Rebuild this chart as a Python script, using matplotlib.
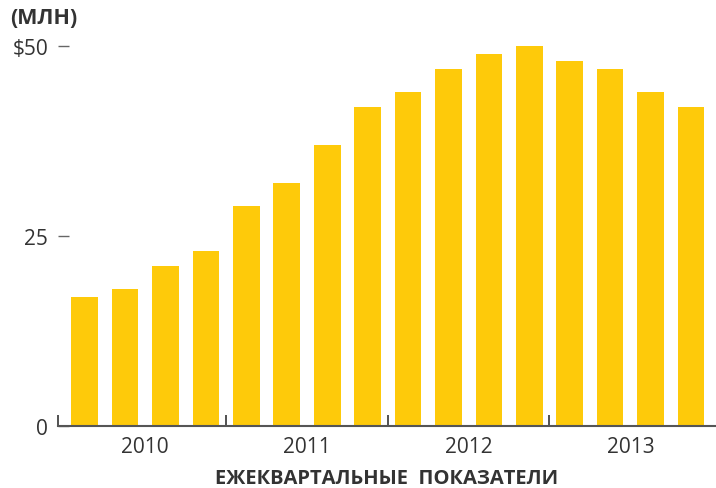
import matplotlib
matplotlib.use("Agg")
import matplotlib.pyplot as plt
import numpy as np

values = [17, 18, 21, 23, 29, 32, 37, 42, 44, 47, 49, 50, 48, 47, 44, 42]
years = ["2010", "2011", "2012", "2013"]
ytick_vals = [0, 25, 50]
ytick_labels = ["0", "25", "$50"]
title = "(МЛН)"
xlabel = "ЕЖЕКВАРТАЛЬНЫЕ  ПОКАЗАТЕЛИ"

plt.rcParams['font.family'] = ['Open Sans', 'DejaVu Sans']
text_color = "#333333"
bar_color = "#FECA0A"

fig = plt.figure(figsize=(7.16, 4.89), dpi=100)
ax = fig.add_axes([58/716, (489-427)/489, (716-58)/716, 380/489])

x = np.arange(len(values))
ax.bar(x, values, width=0.66, color=bar_color, zorder=2, clip_on=False)

ax.set_xlim(-0.66, 15.62)
ax.set_ylim(0, 50)

for s in ["top", "right", "left"]:
    ax.spines[s].set_visible(False)
ax.spines["bottom"].set_color("#555555")
ax.spines["bottom"].set_linewidth(1.5)

ax.set_yticks(ytick_vals)
ax.set_yticklabels(ytick_labels)
ax.tick_params(axis="y", direction="in", length=8, width=1, color="#666666",
               labelsize=15, labelcolor=text_color, pad=7)

# year separators as major ticks, year labels as minor ticks
sep = [-0.66, 3.5, 7.5, 11.5]
ax.set_xticks(sep)
ax.set_xticklabels([""] * len(sep))
ax.tick_params(axis="x", which="major", direction="in", length=8, width=1.2,
               color="#333333")
centers = [i * 4 + 1.5 for i in range(len(years))]
ax.set_xticks(centers, minor=True)
ax.set_xticklabels(years, minor=True)
ax.tick_params(axis="x", which="minor", length=0, labelsize=15,
               labelcolor=text_color, pad=7)

fig.text((58 + 716) / 2 / 716, 1 - 479/489, xlabel, fontsize=14.5,
         fontweight="bold", color=text_color, ha="center", va="center")
fig.text(10/716, 1 - 19/489, title, fontsize=15.5, fontweight="bold",
         color=text_color, ha="left", va="center")

fig.savefig("out.png", dpi=100)
